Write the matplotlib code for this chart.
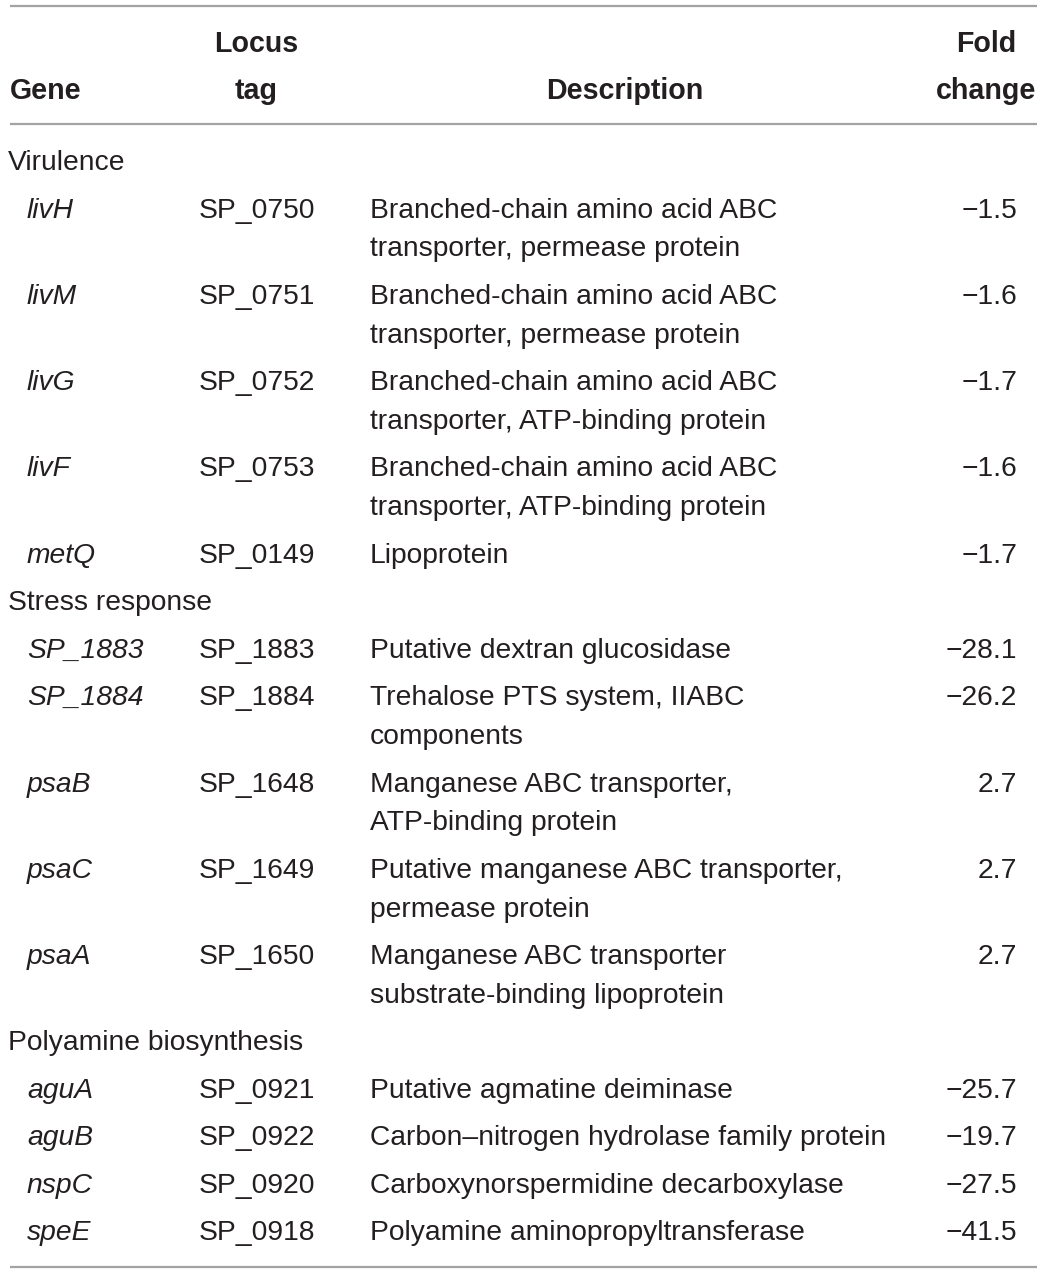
import matplotlib
matplotlib.use("Agg")
import matplotlib.pyplot as plt

# ---- data ----
categories = ["Virulence", "Stress response", "Polyamine biosynthesis"]
genes = [
    ["livH", "livM", "livG", "livF", "metQ"],
    ["SP_1883", "SP_1884", "psaB", "psaC", "psaA"],
    ["aguA", "aguB", "nspC", "speE"],
]
locus_tags = [
    ["SP_0750", "SP_0751", "SP_0752", "SP_0753", "SP_0149"],
    ["SP_1883", "SP_1884", "SP_1648", "SP_1649", "SP_1650"],
    ["SP_0921", "SP_0922", "SP_0920", "SP_0918"],
]
descriptions = [
    ["Branched-chain amino acid ABC\ntransporter, permease protein",
     "Branched-chain amino acid ABC\ntransporter, permease protein",
     "Branched-chain amino acid ABC\ntransporter, ATP-binding protein",
     "Branched-chain amino acid ABC\ntransporter, ATP-binding protein",
     "Lipoprotein"],
    ["Putative dextran glucosidase",
     "Trehalose PTS system, IIABC\ncomponents",
     "Manganese ABC transporter,\nATP-binding protein",
     "Putative manganese ABC transporter,\npermease protein",
     "Manganese ABC transporter\nsubstrate-binding lipoprotein"],
    ["Putative agmatine deiminase",
     "Carbon\u2013nitrogen hydrolase family protein",
     "Carboxynorspermidine decarboxylase",
     "Polyamine aminopropyltransferase"],
]
fold_changes = [
    [-1.5, -1.6, -1.7, -1.6, -1.7],
    [-28.1, -26.2, 2.7, 2.7, 2.7],
    [-25.7, -19.7, -27.5, -41.5],
]
header_top = ["", "Locus", "", "Fold"]
header_bottom = ["Gene", "tag", "Description", "change"]

# ---- layout ----
W, H = 1047, 1274
fig = plt.figure(figsize=(W / 100, H / 100), dpi=100)
ax = fig.add_axes([0, 0, 1, 1])
ax.set_xlim(0, W)
ax.set_ylim(H, 0)
ax.axis("off")

FONT = "Liberation Sans"
FS = 20.3
HFS = 20.6
TXT = "#231f20"
LINE = "#a3a3a3"

def fmt(v):
    s = f"{abs(v):.1f}"
    return ("\u2212" + s) if v < 0 else s

# rules
for y in (5.5, 124, 1267):
    ax.plot([10, 1037], [y, y], color=LINE, lw=1.6, solid_capstyle="butt")

# header
hx = [(10, "left"), (256, "center"), (625, "center"), (986, "center")]
for (x, ha), t1, t2 in zip(hx, header_top, header_bottom):
    if t1:
        ax.text(x, 52, t1, ha=ha, va="baseline", fontsize=HFS, fontweight="bold",
                family=FONT, color=TXT)
    ax.text(x, 99, t2, ha=ha, va="baseline", fontsize=HFS, fontweight="bold",
            family=FONT, color=TXT)

# body
y = 170.0
PITCH = 47.5
LH = 38.8
for cat, gl, ll, dl, fl in zip(categories, genes, locus_tags, descriptions, fold_changes):
    ax.text(8, y, cat, ha="left", va="baseline", fontsize=FS, family=FONT, color=TXT)
    y += PITCH
    for g, l, d, f in zip(gl, ll, dl, fl):
        ax.text(27, y, g, ha="left", va="baseline", fontsize=FS, family=FONT,
                style="italic", color=TXT)
        ax.text(199, y, l, ha="left", va="baseline", fontsize=FS, family=FONT, color=TXT)
        lines = d.split("\n")
        for i, ln in enumerate(lines):
            ax.text(370, y + i * LH, ln, ha="left", va="baseline", fontsize=FS,
                    family=FONT, color=TXT)
        ax.text(1017, y, fmt(f), ha="right", va="baseline", fontsize=FS,
                family=FONT, color=TXT)
        y += PITCH + LH * (len(lines) - 1)

fig.savefig("out.png", dpi=100, facecolor="white")
